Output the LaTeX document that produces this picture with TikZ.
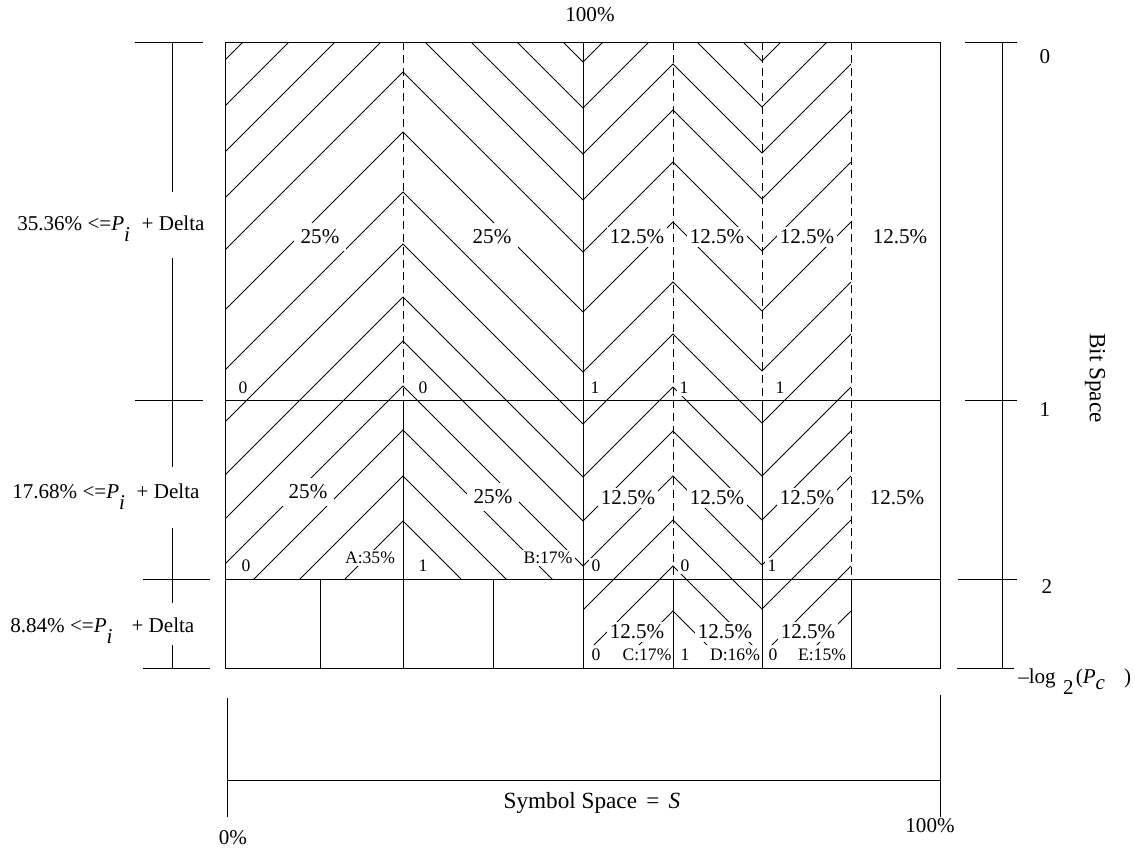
\documentclass[tikz,border=0pt]{standalone}
\usepackage{fontspec}
\setmainfont{Liberation Serif}
\usetikzlibrary{positioning}

\tikzset{
  boxline/.style={line width=0.6pt},
  cutline/.style={line width=0.6pt,dash pattern=on 2mm off 1.2mm},
  hatchline/.style={line width=0.55pt},
  share/.style={font=\fontsize{15}{17}\selectfont,fill=white,inner sep=0.8mm},
  wideshare/.style={share,inner sep=1.6mm},
  bit/.style={font=\fontsize{12.5}{14}\selectfont,fill=white,inner sep=0.6mm},
  axis/.style={font=\fontsize{15}{17}\selectfont,inner sep=0pt},
  title/.style={font=\fontsize{16.5}{19}\selectfont,inner sep=0pt},
}
\newcommand{\lowi}{\raisebox{-0.55em}{\textit{i}}}

\begin{document}
\begin{tikzpicture}[x=0.25mm,y=-0.25mm]
  \useasboundingbox (0,0) rectangle (1135,850);
  % --- hatching: one zigzag per k, peaks at 403 and 673 ---
  \begin{scope}
    \clip (225,42) -- (851,42) -- (851,645) -- (583,645) -- (583,579)
          -- (225,579) -- cycle;
    \foreach \k in {-118,-72,-26,20,72,132,192,244,297,341,386,430,476,521} {
      \draw[hatchline] (225,\k+178) -- (403,\k) -- (583,\k+180) -- (673,\k+90)
                       -- (762,\k+179) -- (851,\k+90);
    }
  \end{scope}
  % --- shares, row 0 ---
  \node[wideshare] (a0) at (320,237) {25\%};
  \node[wideshare] (b0) at (492,237) {25\%};
  \node[share] (c0) at (637,237) {12.5\%};
  \node[share] (d0) at (717,237) {12.5\%};
  \node[share] (e0) at (807,237) {12.5\%};
  \node[share] (f0) at (900,237) {12.5\%};
  % --- shares, row 1 ---
  \node[wideshare] (a1) at (308,492) {25\%};
  \node[wideshare] (b1) at (493,497) {25\%};
  \node[share] (c1) at (628,498) {12.5\%};
  \node[share] (d1) at (717,498) {12.5\%};
  \node[share] (e1) at (807,498) {12.5\%};
  \node[share] (f1) at (897,498) {12.5\%};
  % --- shares, row 2 ---
  \node[share] (c2) at (637,632) {12.5\%};
  \node[share] (d2) at (725,632) {12.5\%};
  \node[share] (e2) at (808,632) {12.5\%};
  % --- code bits ---
  \node[bit] (ba0) at (243,388) {0};
  \node[bit] (bb0) at (423,388) {0};
  \node[bit] (bc0) at (595,388) {1};
  \node[bit] (bd0) at (684,388) {1};
  \node[bit] (be0) at (780,388) {1};
  \node[bit] (ba1) at (246,566) {0};
  \node[bit] (bb1) at (423,566) {1};
  \node[bit] (bc1) at (596,566) {0};
  \node[bit] (bd1) at (685,566) {0};
  \node[bit] (be1) at (772,566) {1};
  \node[bit] (bc2) at (596,655) {0};
  \node[bit] (bd2) at (685,655) {1};
  \node[bit] (be2) at (773,655) {0};
  % --- symbols ---
  \node[bit] (symA) at (370,558) {A:35\%};
  \node[bit] (symB) at (548,558) {B:17\%};
  \node[bit] (symC) at (647,655) {C:17\%};
  \node[bit] (symD) at (735,655) {D:16\%};
  \node[bit] (symE) at (822,655) {E:15\%};
  % --- frame and rows ---
  \draw[boxline] (225,42) rectangle (940,668);
  \draw[boxline] (225,400) -- (940,400);
  \draw[boxline] (225,579) -- (940,579);
  % --- column dividers ---
  \draw[cutline] (403,42) -- (403,400);
  \draw[boxline] (403,400) -- (403,668);
  \draw[boxline] (583,42) -- (583,668);
  \draw[cutline] (673,42) -- (673,579);
  \draw[boxline] (673,579) -- (673,668);
  \draw[cutline] (762,42) -- (762,400);
  \draw[boxline] (762,400) -- (762,668);
  \draw[cutline] (851,42) -- (851,579);
  \draw[boxline] (851,579) -- (851,668);
  \foreach \x in {320,493} {
    \draw[boxline] (\x,579) -- (\x,668);
  }
  % --- left scale: thresholds ---
  \foreach \y/\a/\b in {42/135/203,400/135/203,579/143/210,668/143/210} {
    \draw[boxline] (\a,\y) -- (\b,\y);
  }
  \draw[boxline] (172,42) -- (172,192) (172,258) -- (172,467)
                 (172,528) -- (172,603) (172,645) -- (172,668);
  \node[axis,anchor=base west] (p0) at (17,230)
    {35.36\% <=\textit{P}\lowi\hspace{0.55em}+ Delta};
  \node[axis,anchor=base west] (p1) at (12,498)
    {17.68\% <=\textit{P}\lowi\hspace{0.55em}+ Delta};
  \node[axis,anchor=base west] (p2) at (10,632)
    {8.84\% <=\textit{P}\lowi\hspace{0.9em}+ Delta};
  % --- right scale: bits ---
  \foreach \y/\a/\b in {42/965/1017,400/965/1017,579/958/1017,668/957/1014} {
    \draw[boxline] (\a,\y) -- (\b,\y);
  }
  \draw[boxline] (1002,42) -- (1002,668);
  \node[axis] (r0) at (1045,57) {0};
  \node[axis] (r1) at (1045,410) {1};
  \node[axis] (r2) at (1047,587) {2};
  \node[axis,anchor=base west] (rlog) at (1018,683)
    {\textendash log\hspace{0.35em}\raisebox{-0.55em}{2}\hspace{0.1em}(\textit{P}\raisebox{-0.3em}{\textit{c}}\hspace{0.9em})};
  \node[title,rotate=-90] (bits) at (1095,378) {Bit Space};
  % --- symbol space ---
  \node[axis] (top) at (590,15) {100\%};
  \draw[boxline] (227,698) -- (227,817);
  \draw[boxline] (227,780) -- (940,780);
  \draw[boxline] (940,695) -- (940,817);
  \node[title] (syms) at (592,803) {Symbol Space\hspace{0.4em}=\hspace{0.4em}\textit{S}};
  \node[axis] (s0) at (233,838) {0\%};
  \node[axis] (s1) at (930,826) {100\%};
\end{tikzpicture}
\end{document}
